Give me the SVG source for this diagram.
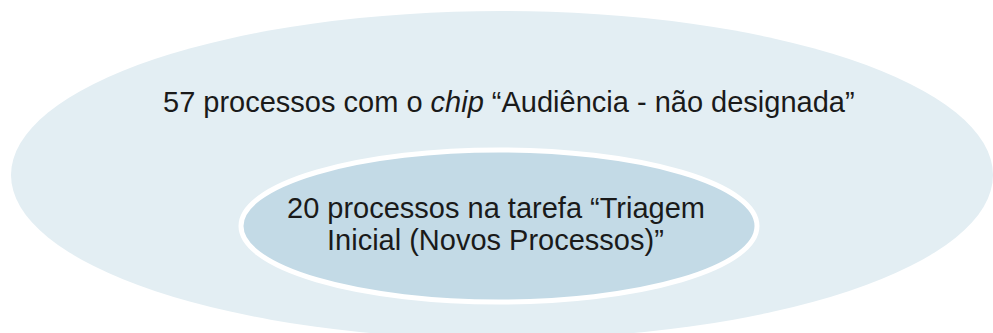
<svg xmlns="http://www.w3.org/2000/svg" width="993" height="333" viewBox="0 0 993 333">
<style>
.t{font-family:"Liberation Sans",Arial,sans-serif;font-size:29px;fill:#1a1a1a}
</style>
<rect width="993" height="333" fill="#ffffff"/>
<g id="outer">
<ellipse cx="502" cy="175" rx="491" ry="164" fill="#e3eef3"/>
<text class="t" x="163" y="112">57 processos com o <tspan font-style="italic">chip</tspan> “Audiência - não designada”</text>
</g>
<g id="inner">
<ellipse cx="499" cy="226" rx="258" ry="76" fill="#c3dae6" stroke="#ffffff" stroke-width="5"/>
<text class="t" x="287" y="218">20 processos na tarefa “Triagem</text>
<text class="t" x="327" y="250">Inicial (Novos Processos)”</text>
</g>
<g id="connectors"/>
</svg>
